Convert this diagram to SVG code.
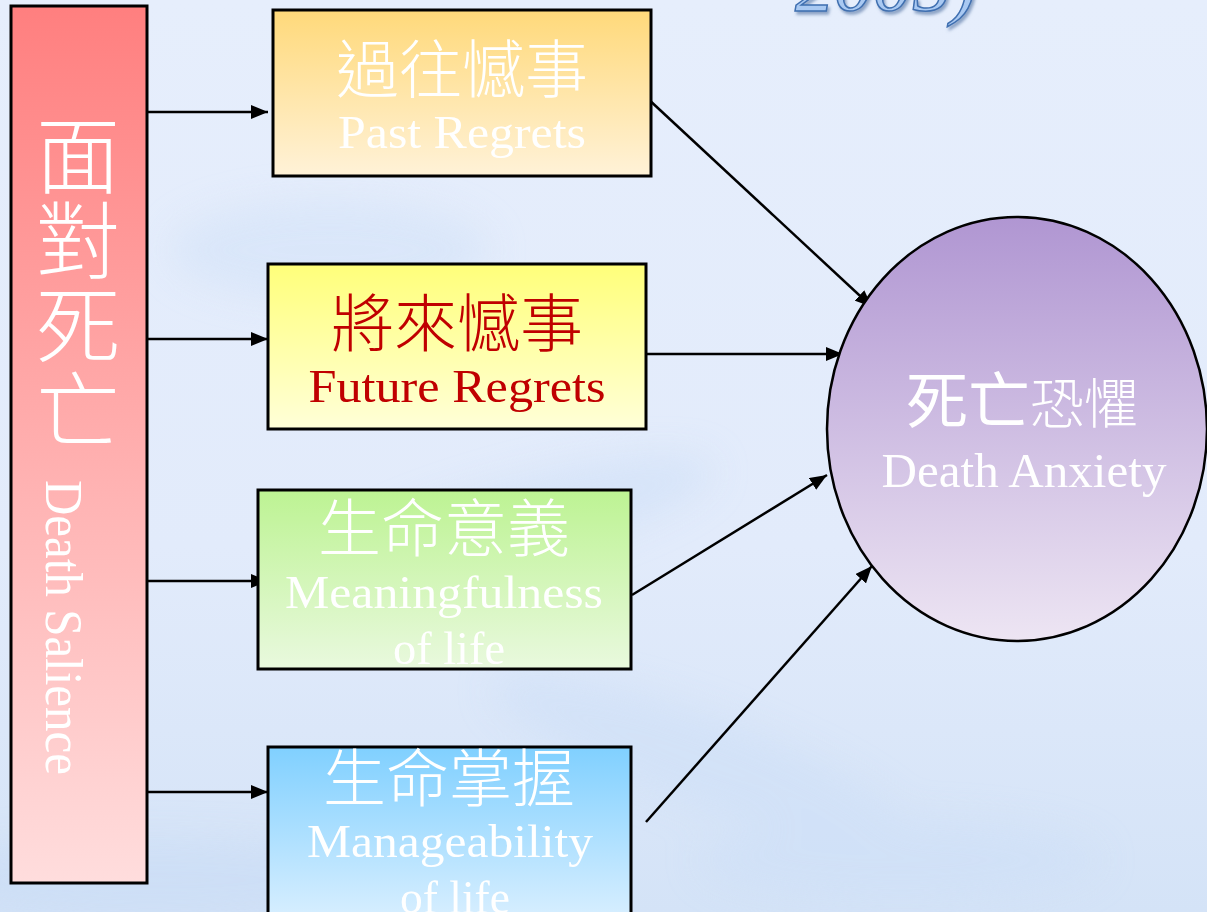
<svg xmlns="http://www.w3.org/2000/svg" width="1207" height="912" viewBox="0 0 1207 912">
<defs>
  <linearGradient id="bg" x1="0" y1="0" x2="0" y2="1">
    <stop offset="0" stop-color="#e6eefc"/>
    <stop offset="0.6" stop-color="#e2ebfb"/>
    <stop offset="1" stop-color="#d4e3f7"/>
  </linearGradient>
  <linearGradient id="gBar" x1="0" y1="0" x2="0" y2="1">
    <stop offset="0" stop-color="#ff7f7f"/>
    <stop offset="1" stop-color="#ffdddd"/>
  </linearGradient>
  <linearGradient id="g1" x1="0" y1="0" x2="0" y2="1">
    <stop offset="0" stop-color="#ffd97a"/>
    <stop offset="1" stop-color="#fff2d8"/>
  </linearGradient>
  <linearGradient id="g2" x1="0" y1="0" x2="0" y2="1">
    <stop offset="0" stop-color="#ffff7a"/>
    <stop offset="1" stop-color="#ffffd8"/>
  </linearGradient>
  <linearGradient id="g3" x1="0" y1="0" x2="0" y2="1">
    <stop offset="0" stop-color="#bdf393"/>
    <stop offset="1" stop-color="#e9f9de"/>
  </linearGradient>
  <linearGradient id="g4" x1="0" y1="0" x2="0" y2="1">
    <stop offset="0" stop-color="#80d0ff"/>
    <stop offset="1" stop-color="#dcf0ff"/>
  </linearGradient>
  <linearGradient id="gEll" x1="0" y1="0" x2="0" y2="1">
    <stop offset="0" stop-color="#b096d2"/>
    <stop offset="1" stop-color="#ede5f3"/>
  </linearGradient>
  <filter id="blur" x="-50%" y="-50%" width="200%" height="200%">
    <feGaussianBlur stdDeviation="18"/>
  </filter>
  <filter id="shadow" x="-20%" y="-50%" width="140%" height="200%">
    <feDropShadow dx="2" dy="3" stdDeviation="1.5" flood-color="#5070a0" flood-opacity="0.6"/>
  </filter>
  <marker id="arrow" markerUnits="userSpaceOnUse" markerWidth="18" markerHeight="14" viewBox="0 0 18 14" refX="17" refY="7" orient="auto">
    <path d="M0,0 L17,7 L0,14 z" fill="#000"/>
  </marker>
  <style>
    .box { stroke:#000; stroke-width:3; }
    .cjk { font-family:"Noto Sans CJK TC","Noto Sans CJK SC",sans-serif; font-weight:300; }
    .en { font-family:"Liberation Serif","Times New Roman",serif; }
    .white { fill:#ffffff; }
    .red { fill:#c00000; }
    .conn line { stroke:#000; stroke-width:2.5; marker-end:url(#arrow); }
  </style>
</defs>

<rect x="0" y="0" width="1207" height="912" fill="url(#bg)"/>
<g filter="url(#blur)" opacity="0.55">
  <ellipse cx="330" cy="250" rx="160" ry="50" fill="#d2e2f8"/>
  <ellipse cx="520" cy="520" rx="200" ry="40" fill="#cddff7" transform="rotate(-15 520 520)"/>
  <ellipse cx="700" cy="760" rx="220" ry="45" fill="#cddff7" transform="rotate(20 700 760)"/>
  <ellipse cx="150" cy="880" rx="260" ry="40" fill="#c8dbf5"/>
  <ellipse cx="900" cy="860" rx="200" ry="40" fill="#cddff7"/>
</g>

<text x="795" y="10" class="en" font-size="78" font-style="italic" fill="#a9c9f2" stroke="#3f6fb0" stroke-width="1.5" filter="url(#shadow)">2005)</text>

<g class="conn" id="connectors">
  <line x1="148" y1="112" x2="268" y2="112"/>
  <line x1="148" y1="339" x2="268" y2="339"/>
  <line x1="148" y1="581" x2="268" y2="581"/>
  <line x1="148" y1="792" x2="268" y2="792"/>
  <line x1="646" y1="97" x2="872" y2="307"/>
  <line x1="647" y1="354" x2="843" y2="354"/>
  <line x1="632" y1="595" x2="827" y2="475"/>
  <line x1="646" y1="822" x2="872" y2="566"/>
</g>

<g id="node-death-salience">
  <rect class="box" x="11" y="6" width="136" height="877" fill="url(#gBar)"/>
  <text class="cjk white" x="78" y="113" font-size="84" writing-mode="vertical-rl" letter-spacing="1">面對死亡</text>
  <text class="en white" font-size="52" transform="translate(46,480) rotate(90)" textLength="295" lengthAdjust="spacingAndGlyphs">Death Salience</text>
</g>

<g id="node-past-regrets">
  <rect class="box" x="273" y="10" width="378" height="166" fill="url(#g1)"/>
  <text class="cjk white" x="462" y="92" font-size="63" text-anchor="middle">過往憾事</text>
  <text class="en white" x="462" y="148" font-size="46" text-anchor="middle" textLength="248" lengthAdjust="spacingAndGlyphs">Past Regrets</text>
</g>

<g id="node-future-regrets">
  <rect class="box" x="268" y="264" width="378" height="165" fill="url(#g2)"/>
  <text class="cjk red" x="457" y="346" font-size="63" text-anchor="middle">將來憾事</text>
  <text class="en red" x="457" y="402" font-size="46" text-anchor="middle" textLength="297" lengthAdjust="spacingAndGlyphs">Future Regrets</text>
</g>

<g id="node-meaningfulness">
  <rect class="box" x="258" y="490" width="373" height="179" fill="url(#g3)"/>
  <text class="cjk white" x="444" y="551" font-size="63" text-anchor="middle">生命意義</text>
  <text class="en white" x="444" y="608" font-size="46" text-anchor="middle" textLength="318" lengthAdjust="spacingAndGlyphs">Meaningfulness</text>
  <text class="en white" x="449" y="664" font-size="46" text-anchor="middle" textLength="112" lengthAdjust="spacingAndGlyphs">of life</text>
</g>

<g id="node-manageability">
  <rect class="box" x="268" y="747" width="363" height="180" fill="url(#g4)"/>
  <text class="cjk white" x="449" y="801" font-size="63" text-anchor="middle">生命掌握</text>
  <text class="en white" x="450" y="857" font-size="46" text-anchor="middle" textLength="286" lengthAdjust="spacingAndGlyphs">Manageability</text>
  <text class="en white" x="455" y="913" font-size="46" text-anchor="middle" textLength="110" lengthAdjust="spacingAndGlyphs">of life</text>
</g>

<g id="node-death-anxiety">
  <ellipse cx="1017" cy="429" rx="190" ry="212" fill="url(#gEll)" stroke="#000" stroke-width="2.5"/>
  <text class="white" x="906" y="424" font-family="'Noto Sans CJK TC','Noto Sans CJK SC',sans-serif"><tspan font-size="62" font-weight="400">死亡</tspan><tspan font-size="54" font-weight="300">恐懼</tspan></text>
  <text class="en white" x="1024" y="487" font-size="48" text-anchor="middle" textLength="285" lengthAdjust="spacingAndGlyphs">Death Anxiety</text>
</g>
</svg>
